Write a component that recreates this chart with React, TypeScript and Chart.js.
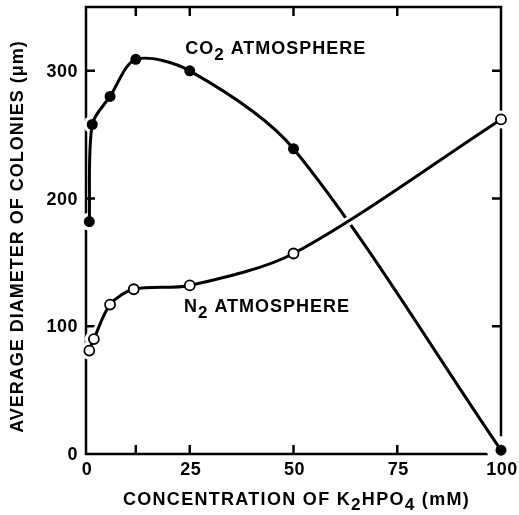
import React, { useEffect, useRef } from 'react';
import { Chart, registerables } from 'chart.js';

Chart.register(...registerables);

// ---- data ----
const co2X = [0.8, 1.5, 5.8, 12, 25, 50, 100];
const co2Y = [182, 258, 280, 309, 300, 239, 3];
const n2X = [0.8, 1.9, 5.8, 11.5, 25, 50, 100];
const n2Y = [81, 90, 117, 129, 132, 157, 262];

const xTickLabels = [0, 25, 50, 75, 100];
const xTickMarks = [12, 25, 50, 75];
const yTickLabels = [0, 100, 200, 300];
const yTickMarks = [100, 200, 300];

const X_MIN = 0;
const X_MAX = 100;
const Y_MIN = 0;
const Y_MAX = 350;

type Part = { t: string; sub?: boolean };
const co2Label: Part[] = [{ t: 'CO' }, { t: '2', sub: true }, { t: ' ATMOSPHERE' }];
const n2Label: Part[] = [{ t: 'N' }, { t: '2', sub: true }, { t: ' ATMOSPHERE' }];
const co2LabelAt = { x: 23.9, y: 317 };
const n2LabelAt = { x: 23.6, y: 115 };
const xTitle: Part[] = [
  { t: 'CONCENTRATION OF K' },
  { t: '2', sub: true },
  { t: 'HPO' },
  { t: '4', sub: true },
  { t: ' (mM)' },
];
const yTitle = 'AVERAGE DIAMETER OF COLONIES (\u03bcm)';

const FONT_FAMILY = '"Liberation Sans", Arial, Helvetica, sans-serif';
const FONT_SIZE = 18;

function fontStr(size: number) {
  return `bold ${size}px ${FONT_FAMILY}`;
}

function setSpacing(ctx: any, px: number) {
  if ('letterSpacing' in ctx) ctx.letterSpacing = `${px}px`;
}

function richWidth(ctx: CanvasRenderingContext2D, parts: Part[], size: number, spacing: number) {
  let w = 0;
  setSpacing(ctx, spacing);
  for (const p of parts) {
    ctx.font = fontStr(p.sub ? size * 0.95 : size);
    w += ctx.measureText(p.t).width;
  }
  return w;
}

function drawRich(ctx: CanvasRenderingContext2D, parts: Part[], x: number, y: number, size: number, spacing: number) {
  let cx = x;
  ctx.textAlign = 'left';
  ctx.textBaseline = 'middle';
  setSpacing(ctx, spacing);
  for (const p of parts) {
    const s = p.sub ? size * 0.95 : size;
    ctx.font = fontStr(s);
    ctx.fillText(p.t, cx, p.sub ? y + size * 0.32 : y);
    cx += ctx.measureText(p.t).width;
  }
}

const toPoints = (xs: number[], ys: number[]) => xs.map((x, i) => ({ x, y: ys[i] }));

const framePlugin = {
  id: 'frameAndText',
  beforeDatasetsDraw(chart: any) {
    const { ctx, chartArea, scales } = chart;
    const { left, right, top, bottom } = chartArea;
    const xs = scales.x;
    const ys = scales.y;
    const TL = 9;
    ctx.save();
    ctx.strokeStyle = '#000';
    ctx.lineWidth = 2.5;
    ctx.lineCap = 'butt';
    ctx.strokeRect(left, top, right - left, bottom - top);
    ctx.beginPath();
    for (const v of xTickMarks) {
      const px = xs.getPixelForValue(v);
      ctx.moveTo(px, bottom);
      ctx.lineTo(px, bottom - TL);
      ctx.moveTo(px, top);
      ctx.lineTo(px, top + TL);
    }
    for (const v of yTickMarks) {
      const py = ys.getPixelForValue(v);
      ctx.moveTo(left, py);
      ctx.lineTo(left + TL, py);
      ctx.moveTo(right, py);
      ctx.lineTo(right - TL, py);
    }
    ctx.stroke();
    ctx.restore();
  },
  afterDraw(chart: any) {
    const { ctx, chartArea, scales } = chart;
    const xs = scales.x;
    const ys = scales.y;
    ctx.save();
    ctx.fillStyle = '#000';

    // tick labels
    ctx.font = fontStr(FONT_SIZE);
    setSpacing(ctx, 0.5);
    ctx.textAlign = 'right';
    ctx.textBaseline = 'middle';
    for (const v of yTickLabels) {
      ctx.fillText(String(v), chartArea.left - 8, ys.getPixelForValue(v) + 1);
    }
    ctx.textAlign = 'center';
    for (const v of xTickLabels) {
      ctx.fillText(String(v), xs.getPixelForValue(v) + 1, chartArea.bottom + 16);
    }

    drawRich(ctx, co2Label, xs.getPixelForValue(co2LabelAt.x), ys.getPixelForValue(co2LabelAt.y), FONT_SIZE, 1);
    drawRich(ctx, n2Label, xs.getPixelForValue(n2LabelAt.x), ys.getPixelForValue(n2LabelAt.y), FONT_SIZE, 1);

    // x title
    const w = richWidth(ctx, xTitle, FONT_SIZE, 1.3);
    const cx = (chartArea.left + chartArea.right) / 2;
    drawRich(ctx, xTitle, cx - w / 2 + 3, chart.height - 15, FONT_SIZE, 1.3);

    // y title
    ctx.translate(18.5, (chartArea.top + chartArea.bottom) / 2 + 6);
    ctx.rotate(-Math.PI / 2);
    ctx.font = fontStr(FONT_SIZE);
    setSpacing(ctx, 1);
    ctx.textAlign = 'center';
    ctx.textBaseline = 'middle';
    ctx.fillText(yTitle, 0, 0);
    ctx.restore();
  },
};

export default function App() {
  const ref = useRef<HTMLCanvasElement | null>(null);

  useEffect(() => {
    if (!ref.current) return;
    const chart = new Chart(ref.current, {
      type: 'line',
      data: {
        datasets: [
          {
            label: 'CO2 halo',
            data: toPoints(co2X, co2Y),
            showLine: false,
            pointRadius: [9, 9, 9, 9, 9, 9, 14],
            pointBackgroundColor: '#fff',
            pointBorderWidth: 0,
            order: 6,
            clip: false,
          } as any,
          {
            label: 'CO2 atmosphere',
            data: toPoints(co2X, co2Y),
            borderColor: '#000',
            borderWidth: 3,
            tension: 0.3,
            pointRadius: 5.5,
            pointBackgroundColor: '#000',
            pointBorderColor: '#000',
            pointBorderWidth: 0,
            order: 5,
            clip: false,
          },
          {
            label: 'N2 halo',
            data: toPoints(n2X, n2Y),
            borderColor: '#fff',
            borderWidth: 9,
            tension: 0.3,
            pointRadius: 9,
            pointBackgroundColor: '#fff',
            pointBorderWidth: 0,
            order: 4,
            clip: false,
          },
          {
            label: 'N2 atmosphere',
            data: toPoints(n2X, n2Y),
            borderColor: '#000',
            borderWidth: 3,
            tension: 0.3,
            pointRadius: 5,
            pointBackgroundColor: '#fff',
            pointBorderColor: '#000',
            pointBorderWidth: 1.8,
            order: 3,
            clip: false,
          },
        ],
      },
      options: {
        responsive: false,
        animation: false,
        events: [],
        layout: { autoPadding: false, padding: { left: 0, right: 18, top: 7, bottom: 0 } },
        plugins: {
          legend: { display: false },
          tooltip: { enabled: false },
          title: { display: false },
        },
        scales: {
          x: {
            type: 'linear',
            min: X_MIN,
            max: X_MAX,
            grid: { display: false, drawTicks: false },
            border: { display: false },
            ticks: { display: false },
            afterFit: (s: any) => {
              s.height = 61;
            },
          },
          y: {
            type: 'linear',
            min: Y_MIN,
            max: Y_MAX,
            grid: { display: false, drawTicks: false },
            border: { display: false },
            ticks: { display: false },
            afterFit: (s: any) => {
              s.width = 86;
            },
          },
        },
      },
      plugins: [framePlugin],
    });
    return () => chart.destroy();
  }, []);

  return (
    <div style={{ position: 'fixed', left: 0, top: 0, width: 519, height: 515, background: '#fff' }}>
      <canvas ref={ref} width={519} height={515} />
    </div>
  );
}
